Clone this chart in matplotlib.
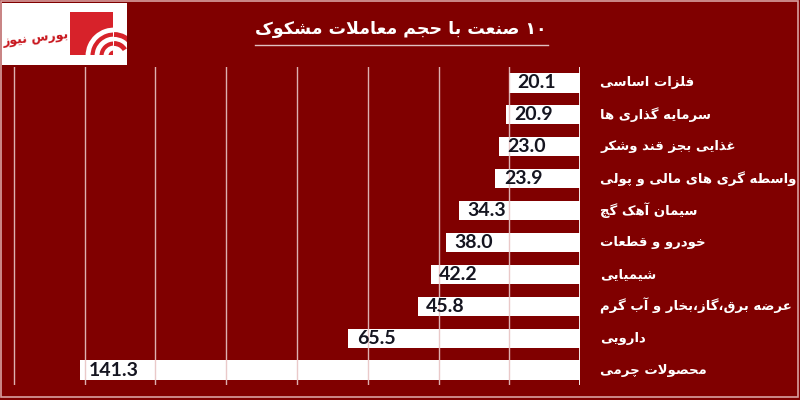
import matplotlib
matplotlib.use("Agg")
import matplotlib.pyplot as plt
from matplotlib.transforms import blended_transform_factory
from matplotlib.patches import Rectangle, Arc

# ---------------- data ----------------
categories = ["فلزات اساسی", "سرمایه گذاری ها", "غذایی بجز قند وشکر",
              "واسطه گری های مالی و پولی", "سیمان آهک گچ", "خودرو و قطعات",
              "شیمیایی", "عرضه برق،گاز،بخار و آب گرم", "دارویی", "محصولات چرمی"]
values = [20.1, 20.9, 23.0, 23.9, 34.3, 38.0, 42.2, 45.8, 65.5, 141.3]
value_labels = ["20.1", "20.9", "23.0", "23.9", "34.3", "38.0", "42.2", "45.8", "65.5", "141.3"]
title = "۱۰ صنعت با حجم معاملات مشکوک"
logo_text = "بورس نیوز"
grid_ticks = [0, 20, 40, 60, 80, 100, 120, 140, 160]

# ---------------- minimal Arabic/Persian shaping ----------------
F = {
    'ء': ('\uFE80', None, None, None),
    'آ': ('\uFE81', '\uFE82', None, None),
    'أ': ('\uFE83', '\uFE84', None, None),
    'ؤ': ('\uFE85', '\uFE86', None, None),
    'إ': ('\uFE87', '\uFE88', None, None),
    'ئ': ('\uFE89', '\uFE8A', '\uFE8B', '\uFE8C'),
    'ا': ('\uFE8D', '\uFE8E', None, None),
    'ب': ('\uFE8F', '\uFE90', '\uFE91', '\uFE92'),
    'ة': ('\uFE93', '\uFE94', None, None),
    'ت': ('\uFE95', '\uFE96', '\uFE97', '\uFE98'),
    'ث': ('\uFE99', '\uFE9A', '\uFE9B', '\uFE9C'),
    'ج': ('\uFE9D', '\uFE9E', '\uFE9F', '\uFEA0'),
    'ح': ('\uFEA1', '\uFEA2', '\uFEA3', '\uFEA4'),
    'خ': ('\uFEA5', '\uFEA6', '\uFEA7', '\uFEA8'),
    'د': ('\uFEA9', '\uFEAA', None, None),
    'ذ': ('\uFEAB', '\uFEAC', None, None),
    'ر': ('\uFEAD', '\uFEAE', None, None),
    'ز': ('\uFEAF', '\uFEB0', None, None),
    'س': ('\uFEB1', '\uFEB2', '\uFEB3', '\uFEB4'),
    'ش': ('\uFEB5', '\uFEB6', '\uFEB7', '\uFEB8'),
    'ص': ('\uFEB9', '\uFEBA', '\uFEBB', '\uFEBC'),
    'ض': ('\uFEBD', '\uFEBE', '\uFEBF', '\uFEC0'),
    'ط': ('\uFEC1', '\uFEC2', '\uFEC3', '\uFEC4'),
    'ظ': ('\uFEC5', '\uFEC6', '\uFEC7', '\uFEC8'),
    'ع': ('\uFEC9', '\uFECA', '\uFECB', '\uFECC'),
    'غ': ('\uFECD', '\uFECE', '\uFECF', '\uFED0'),
    'ف': ('\uFED1', '\uFED2', '\uFED3', '\uFED4'),
    'ق': ('\uFED5', '\uFED6', '\uFED7', '\uFED8'),
    'ك': ('\uFED9', '\uFEDA', '\uFEDB', '\uFEDC'),
    'ل': ('\uFEDD', '\uFEDE', '\uFEDF', '\uFEE0'),
    'م': ('\uFEE1', '\uFEE2', '\uFEE3', '\uFEE4'),
    'ن': ('\uFEE5', '\uFEE6', '\uFEE7', '\uFEE8'),
    'ه': ('\uFEE9', '\uFEEA', '\uFEEB', '\uFEEC'),
    'و': ('\uFEED', '\uFEEE', None, None),
    'ى': ('\uFEEF', '\uFEF0', None, None),
    'ي': ('\uFEF1', '\uFEF2', '\uFEF3', '\uFEF4'),
    'پ': ('\uFB56', '\uFB57', '\uFB58', '\uFB59'),
    'چ': ('\uFB7A', '\uFB7B', '\uFB7C', '\uFB7D'),
    'ژ': ('\uFB8A', '\uFB8B', None, None),
    'ک': ('\uFB8E', '\uFB8F', '\uFB90', '\uFB91'),
    'گ': ('\uFB92', '\uFB93', '\uFB94', '\uFB95'),
    'ی': ('\uFBFC', '\uFBFD', '\uFBFE', '\uFBFF'),
}
LAM_ALEF = {'ا': ('\uFEFB', '\uFEFC'), 'آ': ('\uFEF5', '\uFEF6')}


def dual(c):
    return c in F and F[c][2] is not None


def shape(s):
    chars = list(s)
    out = []
    i = 0
    n = len(chars)
    while i < n:
        c = chars[i]
        prev = chars[i - 1] if i > 0 else None
        nxt = chars[i + 1] if i + 1 < n else None
        cp = prev is not None and dual(prev) and c in F
        if c == 'ل' and nxt in LAM_ALEF:
            out.append(LAM_ALEF[nxt][1 if cp else 0])
            i += 2
            continue
        if c not in F:
            out.append(c)
            i += 1
            continue
        cn = dual(c) and nxt is not None and nxt in F
        iso, fin, ini, med = F[c]
        if cp and cn:
            out.append(med)
        elif cp:
            out.append(fin or iso)
        elif cn:
            out.append(ini)
        else:
            out.append(iso)
        i += 1
    # visual order: reverse, keeping digit runs LTR
    tokens = []
    buf = ""
    for ch in out:
        if ch.isdigit() or (buf and ch == '.'):
            buf += ch
        else:
            if buf:
                tokens.append(buf)
                buf = ""
            tokens.append(ch)
    if buf:
        tokens.append(buf)
    return "".join(reversed(tokens))


# ---------------- figure ----------------
BG = '#800000'
fig = plt.figure(figsize=(8, 4), dpi=100, facecolor=BG)

deco = fig.add_axes([0, 0, 1, 1])
deco.set_xlim(0, 800)
deco.set_ylim(400, 0)
deco.axis('off')
deco.patch.set_alpha(0)

# frame
deco.add_patch(Rectangle((1, 1), 797, 396, fill=False, edgecolor='#d8a0a0', lw=1.2))
# logo
white_box = Rectangle((2, 3), 125, 62, facecolor='white', edgecolor='none')
deco.add_patch(white_box)
red_sq = Rectangle((70, 12), 43, 43, facecolor='#d7222a', edgecolor='none')
deco.add_patch(red_sq)
for r in [8, 17, 26]:
    a = Arc((114, 56), 2 * r, 2 * r, theta1=180, theta2=275, color='white', lw=3.5)
    deco.add_patch(a)
    a.set_clip_path(white_box)
for r in [12.5, 21.5]:
    a = Arc((114, 56), 2 * r, 2 * r, theta1=270, theta2=330, color='#d7222a', lw=3.5)
    deco.add_patch(a)
    a.set_clip_path(white_box)
deco.text(36, 38, shape(logo_text), color='#c8161d', fontsize=9, fontweight='bold',
          family='DejaVu Sans', ha='center', va='center', rotation=6)

# title
deco.text(401, 29, shape(title), color='white', fontsize=12.5, fontweight='bold',
          family='DejaVu Sans', ha='center', va='center')
deco.plot([255, 548], [45, 45], color='#e0c0c0', lw=1)

# main axes
x_left_px, x_axis_px = 8, 580
px_per_unit = (580 - 14) / 160.0
xmax = (x_axis_px - x_left_px) / px_per_unit
ax = fig.add_axes([x_left_px / 800, 1 - 385 / 400, (x_axis_px - x_left_px) / 800, (385 - 67) / 400])
ax.set_facecolor('none')
ax.set_xlim(xmax, 0)
ax.set_ylim(len(values) - 0.53, -0.5)

ypos = list(range(len(values)))
ax.barh(ypos, values, height=0.6, color='white', edgecolor='none', zorder=2)
for t in grid_ticks[1:]:
    ax.axvline(t, color='#e8c4c4', lw=1, zorder=3, alpha=0.9)
ax.axvline(0, color='white', lw=2, zorder=4)

for y, v, lab in zip(ypos, values, value_labels):
    ax.annotate(lab, xy=(v, y), xytext=(6, 0), textcoords='offset points',
                ha='left', va='center', fontsize=14, fontweight='bold',
                family=['Lato', 'DejaVu Sans'], color='#151520', zorder=5)

tr = blended_transform_factory(fig.transFigure, ax.transData)
for y, c in zip(ypos, categories):
    ax.text(600 / 800, y, shape(c), transform=tr, ha='left', va='center',
            fontsize=9.5, fontweight='bold', family='DejaVu Sans', color='white', clip_on=False)

ax.set_xticks([])
ax.set_yticks([])
for s in ax.spines.values():
    s.set_visible(False)

fig.savefig('out.png', dpi=100, facecolor=BG)
